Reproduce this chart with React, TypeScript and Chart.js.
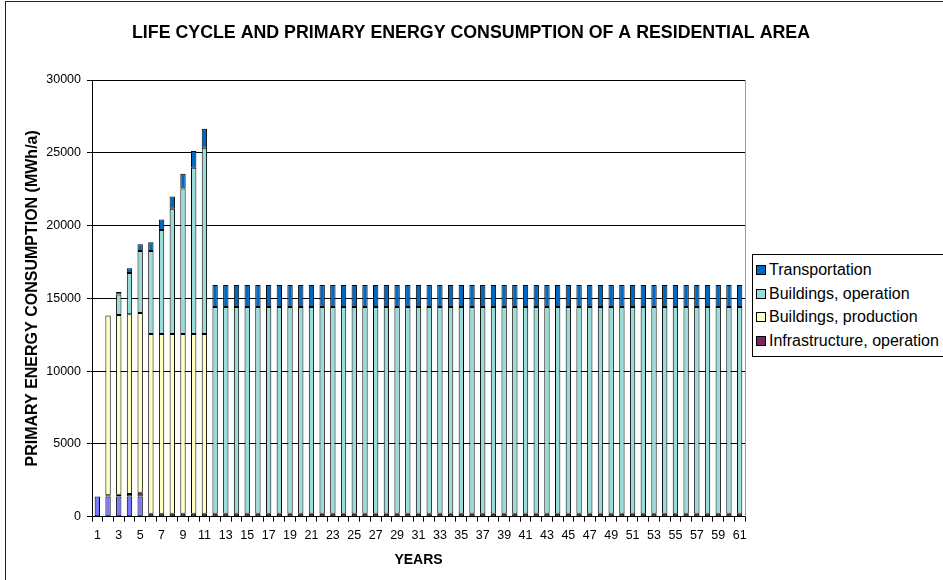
import React, { useEffect, useRef } from "react";
import { Chart, registerables } from "chart.js";

Chart.register(...registerables);

const years = [
  "1","2","3","4","5","6","7","8","9","10",
  "11","12","13","14","15","16","17","18","19","20",
  "21","22","23","24","25","26","27","28","29","30",
  "31","32","33","34","35","36","37","38","39","40",
  "41","42","43","44","45","46","47","48","49","50",
  "51","52","53","54","55","56","57","58","59","60",
  "61",
];

const infrastructureProduction = [
  1380, 1380, 1380, 1380, 1380, null, null, null, null, null,
  null, null, null, null, null, null, null, null, null, null,
  null, null, null, null, null, null, null, null, null, null,
  null, null, null, null, null, null, null, null, null, null,
  null, null, null, null, null, null, null, null, null, null,
  null, null, null, null, null, null, null, null, null, null,
  null,
];

const infrastructureOperation = [
  null, 100, 120, 180, 270, 200, 200, 200, 200, 200,
  200, 200, 200, 200, 200, 200, 200, 200, 200, 200,
  200, 200, 200, 200, 200, 200, 200, 200, 200, 200,
  200, 200, 200, 200, 200, 200, 200, 200, 200, 200,
  200, 200, 200, 200, 200, 200, 200, 200, 200, 200,
  200, 200, 200, 200, 200, 200, 200, 200, 200, 200,
  200,
];

const buildingsProduction = [
  null, 12350, 12350, 12350, 12350, 12350, 12350, 12350, 12350, 12350,
  12350, null, null, null, null, null, null, null, null, null,
  null, null, null, null, null, null, null, null, null, null,
  null, null, null, null, null, null, null, null, null, null,
  null, null, null, null, null, null, null, null, null, null,
  null, null, null, null, null, null, null, null, null, null,
  null,
];

const buildingsOperation = [
  null, null, 1420, 2840, 4250, 5710, 7150, 8600, 10000, 11420,
  12800, 14210, 14210, 14210, 14210, 14210, 14210, 14210, 14210, 14210,
  14210, 14210, 14210, 14210, 14210, 14210, 14210, 14210, 14210, 14210,
  14210, 14210, 14210, 14210, 14210, 14210, 14210, 14210, 14210, 14210,
  14210, 14210, 14210, 14210, 14210, 14210, 14210, 14210, 14210, 14210,
  14210, 14210, 14210, 14210, 14210, 14210, 14210, 14210, 14210, 14210,
  14210,
];

const transportation = [
  null, null, 165, 320, 460, 590, 710, 850, 1010, 1145,
  1305, 1510, 1510, 1510, 1510, 1510, 1510, 1510, 1510, 1510,
  1510, 1510, 1510, 1510, 1510, 1510, 1510, 1510, 1510, 1510,
  1510, 1510, 1510, 1510, 1510, 1510, 1510, 1510, 1510, 1510,
  1510, 1510, 1510, 1510, 1510, 1510, 1510, 1510, 1510, 1510,
  1510, 1510, 1510, 1510, 1510, 1510, 1510, 1510, 1510, 1510,
  1510,
];

const TITLE = "LIFE CYCLE AND PRIMARY ENERGY CONSUMPTION OF A RESIDENTIAL AREA";
const FONT = "'Liberation Sans', Arial, sans-serif";

const series = [
  { label: "Infrastructure, production", data: infrastructureProduction, color: "#7878FF", legend: false },
  { label: "Infrastructure, operation", data: infrastructureOperation, color: "#802060", legend: true },
  { label: "Buildings, production", data: buildingsProduction, color: "#FFFFC0", legend: true },
  { label: "Buildings, operation", data: buildingsOperation, color: "#99DCDA", legend: true },
  { label: "Transportation", data: transportation, color: "#0068C0", legend: true },
];

const decorations = {
  id: "decorations",
  afterDraw(chart: any) {
    const { ctx, chartArea, width } = chart;
    ctx.save();
    ctx.strokeStyle = "#9a9a9a";
    ctx.lineWidth = 1;
    ctx.beginPath();
    ctx.moveTo(Math.round(chartArea.right) + 0.5, chartArea.top);
    ctx.lineTo(Math.round(chartArea.right) + 0.5, chartArea.bottom);
    ctx.stroke();
    ctx.fillStyle = "#000";
    ctx.font = "bold 17.8px " + FONT;
    ctx.textAlign = "center";
    ctx.textBaseline = "middle";
    ctx.fillText(TITLE, width / 2 - 0.5, 33);
    ctx.restore();
  },
};

export default function App() {
  const ref = useRef<HTMLCanvasElement | null>(null);

  useEffect(() => {
    if (!ref.current) return;
    const chart = new Chart(ref.current, {
      type: "bar",
      data: {
        labels: years,
        datasets: series.map((s) => ({
          label: s.label,
          data: s.data as any,
          backgroundColor: s.color,
          borderColor: "#000",
          borderWidth: 1,
          borderSkipped: false,
          barPercentage: 0.5,
          categoryPercentage: 1,
        })),
      },
      options: {
        responsive: false,
        animation: false,
        layout: { padding: { left: 0, right: 198, top: 80, bottom: 0 } },
        plugins: {
          legend: { display: false },
          tooltip: { enabled: false },
          title: { display: false },
        },
        scales: {
          x: {
            stacked: true,
            offset: true,
            grid: {
              display: true,
              drawOnChartArea: false,
              drawTicks: true,
              tickLength: 5,
              offset: true,
              color: "#000",
            },
            border: { display: true, color: "#000" },
            ticks: {
              autoSkip: false,
              maxRotation: 0,
              minRotation: 0,
              padding: 6,
              color: "#000",
              font: { family: FONT, size: 12.5 },
              callback: (_v: any, i: number) => (i % 2 === 0 ? years[i] : ""),
            },
            title: {
              display: true,
              text: "YEARS",
              color: "#000",
              font: { family: FONT, size: 14, weight: "bold" },
              padding: { top: 0, bottom: 11.6 },
            },
            afterFit: (s: any) => {
              s.height = 63.3;
            },
          },
          y: {
            stacked: true,
            min: 0,
            max: 30000,
            grid: { color: "#000", lineWidth: 1, tickLength: 5, drawTicks: true },
            border: { display: true, color: "#000" },
            ticks: {
              stepSize: 5000,
              padding: 6,
              color: "#000",
              font: { family: FONT, size: 12.5 },
              callback: (v: any) => String(v),
            },
            title: {
              display: true,
              text: "PRIMARY ENERGY CONSUMPTION (MWh/a)",
              color: "#000",
              font: { family: FONT, size: 16, weight: "bold" },
              padding: { top: 23.4, bottom: 0 },
            },
            afterFit: (s: any) => {
              s.width = 92;
            },
          },
        },
      },
      plugins: [decorations],
    });
    return () => chart.destroy();
  }, []);

  const legendItems = series.filter((s) => s.legend).slice().reverse();

  return (
    <div
      style={{
        position: "fixed",
        left: 0,
        top: 0,
        width: 943,
        height: 580,
        overflow: "hidden",
        background: "#fff",
      }}
    >
      <div
        style={{
          position: "absolute",
          left: 5,
          top: 1,
          width: 1200,
          height: 1200,
          border: "1px solid #222",
          boxSizing: "border-box",
        }}
      />
      <canvas
        ref={ref}
        width={943}
        height={580}
        style={{ position: "absolute", left: 0, top: 0, width: 943, height: 580 }}
      />
      <div
        style={{
          position: "absolute",
          left: 752,
          top: 254,
          width: 220,
          height: 103,
          border: "1px solid #000",
          boxSizing: "border-box",
          background: "#fff",
          fontFamily: FONT,
          fontSize: 16,
          color: "#000",
        }}
      >
        {legendItems.map((s, i) => (
          <div
            key={s.label}
            style={{
              position: "absolute",
              left: 3,
              top: 6 + i * 23.7,
              height: 18,
              display: "flex",
              alignItems: "center",
              whiteSpace: "nowrap",
            }}
          >
            <span
              style={{
                display: "inline-block",
                width: 8,
                height: 8,
                background: s.color,
                border: "1px solid #000",
                marginRight: 3,
              }}
            />
            <span style={{ lineHeight: "18px" }}>{s.label}</span>
          </div>
        ))}
      </div>
    </div>
  );
}
